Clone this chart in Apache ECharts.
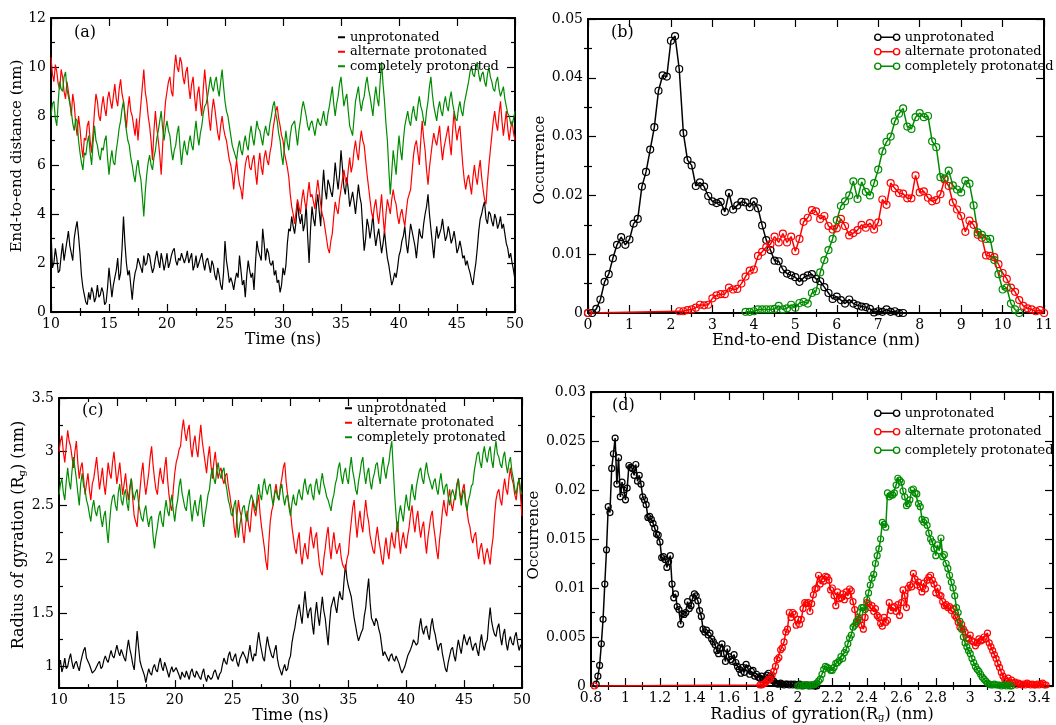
<!DOCTYPE html>
<html>
<head>
<meta charset="utf-8">
<script src="https://cdn.jsdelivr.net/npm/echarts@6/dist/echarts.min.js"></script>
<style>
  html, body { margin: 0; padding: 0; background: #fff; }
  #chart { width: 1056px; height: 725px; }
</style>
</head>
<body>
<div id="chart"></div>
<script>
// ---------- series names ----------
const SERIES_NAMES = ['unprotonated', 'alternate protonated', 'completely protonated'];

// ---------- (a) end-to-end distance vs time ----------
// Samples on the quarter-nanosecond grid (10, 10.25, ... 50 ns) and the samples half way
// between them (10.125, 10.375, ... 49.875 ns); the two are interleaved when plotted.
const TIME_START = 10;
const TIME_STEP = 0.125;
const distUnprot = [
  3.3, 2.0, 2.2, 1.7, 2.8, 2.5, 3.3, 2.4, 3.0, 3.7, 2.4, 1.0, 0.4, 0.8, 1.0, 0.4, 1.1, 0.7, 0.8, 0.4,
  1.8, 0.6, 1.4, 2.2, 1.6, 3.9, 2.0, 1.7, 0.5, 1.6, 2.2, 1.8, 2.3, 2.0, 2.3, 1.6, 2.2, 2.1, 2.4, 1.7,
  2.4, 2.0, 2.5, 2.1, 2.2, 2.4, 2.0, 2.5, 2.2, 1.7, 2.3, 2.0, 2.4, 1.7, 2.2, 1.6, 1.9, 1.3, 1.5, 0.9,
  2.9, 1.7, 1.4, 0.9, 1.6, 2.3, 1.1, 0.6, 2.1, 1.4, 0.9, 2.9, 2.3, 3.4, 2.1, 2.4, 1.9, 1.5, 1.2, 0.8,
  1.8, 1.9, 3.4, 3.9, 3.2, 4.5, 3.6, 3.3, 4.4, 2.0, 4.3, 3.5, 4.8, 3.5, 5.8, 4.6, 5.2, 4.7, 6.1, 5.0,
  6.6, 5.1, 5.5, 4.3, 4.9, 4.0, 5.2, 4.4, 2.5, 3.8, 3.0, 4.0, 2.7, 3.4, 2.4, 3.3, 2.2, 1.5, 1.3, 1.4,
  2.3, 2.9, 3.5, 2.4, 3.6, 3.0, 2.2, 3.4, 3.0, 4.0, 4.8, 3.4, 2.2, 3.5, 3.2, 3.8, 2.9, 3.5, 2.8, 3.3,
  2.4, 2.9, 2.2, 1.9, 1.8, 1.3, 1.6, 2.6, 3.8, 4.3, 3.8, 4.1, 3.7, 4.0, 3.4, 3.9, 3.6, 2.8, 2.2, 2.0,
  1.3
];
const distUnprotMid = [
  1.8, 2.6, 1.6, 2.3, 2.1, 2.9, 2.7, 2.1, 3.4, 3.1, 1.5, 0.7, 0.3, 0.5, 0.8, 0.6, 0.6, 1.0, 0.3, 1.0,
  1.2, 1.1, 1.7, 1.3, 2.6, 2.8, 1.5, 1.1, 1.2, 1.8, 2.0, 1.6, 1.9, 2.4, 1.9, 1.8, 2.5, 1.8, 2.1, 2.0,
  1.8, 2.3, 2.6, 1.9, 2.1, 2.2, 2.2, 2.0, 2.4, 1.9, 1.8, 2.2, 2.0, 2.1, 1.9, 2.1, 1.5, 1.8, 1.1, 1.6,
  2.1, 1.2, 1.2, 1.3, 1.4, 1.7, 1.3, 1.5, 1.7, 1.6, 2.0, 2.5, 2.1, 2.8, 2.6, 2.0, 2.1, 1.7, 1.3, 1.1,
  1.5, 2.8, 3.3, 3.5, 3.7, 3.9, 4.0, 3.6, 3.1, 3.4, 3.8, 4.3, 4.1, 4.9, 5.0, 5.4, 4.9, 5.3, 5.5, 5.6,
  5.9, 4.8, 5.0, 4.6, 4.5, 4.6, 4.7, 3.4, 3.0, 3.5, 3.4, 3.2, 3.1, 2.9, 2.8, 2.7, 1.9, 1.1, 1.6, 1.8,
  2.5, 3.1, 2.8, 3.0, 3.3, 2.7, 2.8, 3.1, 3.6, 4.3, 4.0, 2.8, 2.9, 3.0, 3.4, 3.3, 3.1, 3.2, 3.0, 2.9,
  2.6, 2.6, 2.3, 2.1, 1.6, 1.1, 2.0, 3.3, 4.0, 4.5, 3.6, 4.0, 3.5, 3.8, 3.6, 3.4, 3.2, 2.6, 2.4, 1.7
];
const distAlt = [
  10.4, 9.4, 9.8, 9.1, 9.6, 8.7, 9.0, 8.0, 8.5, 7.2, 7.5, 6.3, 7.0, 7.8, 6.5, 8.2, 8.6, 7.8, 8.8, 8.0,
  9.0, 8.3, 9.3, 8.4, 9.5, 8.6, 7.5, 8.8, 8.0, 7.2, 7.0, 8.5, 9.9, 8.6, 7.6, 6.2, 8.2, 7.0, 5.6, 7.8,
  9.0, 9.6, 8.8, 10.5, 9.8, 10.2, 9.3, 10.0, 8.7, 9.6, 8.2, 9.2, 8.0, 9.9, 8.6, 7.4, 8.7, 7.8, 7.0, 8.0,
  7.2, 6.6, 6.0, 5.0, 6.2, 5.2, 4.6, 6.0, 6.4, 5.8, 6.4, 5.2, 6.5, 5.6, 6.6, 6.0, 6.8, 7.8, 8.4, 7.6,
  7.0, 6.2, 5.5, 4.3, 3.6, 4.6, 4.0, 5.0, 4.2, 5.3, 4.8, 4.2, 5.4, 4.4, 3.8, 3.0, 2.4, 3.2, 4.5, 4.0,
  5.0, 5.8, 5.2, 6.3, 6.0, 7.0, 6.2, 7.4, 6.8, 5.6, 4.6, 3.8, 4.6, 3.6, 4.8, 3.2, 4.6, 4.0, 5.0, 4.4,
  3.6, 4.2, 3.5, 4.6, 5.0, 6.4, 7.0, 6.0, 7.8, 6.6, 5.2, 6.4, 7.3, 6.8, 7.6, 6.2, 7.0, 7.6, 6.4, 8.2,
  7.0, 7.6, 6.0, 5.0, 5.6, 4.8, 6.0, 5.2, 6.2, 5.0, 4.4, 6.0, 7.2, 8.2, 7.4, 8.6, 7.2, 8.2, 7.0, 7.8,
  7.0
];
const distAltMid = [
  9.7, 10.1, 9.3, 9.9, 9.0, 9.4, 8.6, 8.9, 7.7, 8.0, 6.8, 7.1, 7.6, 7.0, 7.3, 8.9, 8.0, 8.4, 8.3, 8.7,
  8.6, 8.8, 8.7, 9.1, 8.9, 8.1, 8.3, 8.2, 7.6, 7.9, 7.8, 9.2, 9.0, 8.0, 7.0, 7.4, 7.5, 6.4, 6.8, 8.6,
  9.4, 9.0, 9.9, 10.0, 10.4, 9.6, 9.8, 9.2, 9.3, 8.8, 8.9, 8.5, 9.1, 9.2, 7.9, 8.2, 8.3, 7.3, 7.6, 7.5,
  7.0, 6.2, 5.6, 5.7, 5.6, 5.0, 5.4, 6.3, 5.9, 6.2, 5.7, 6.0, 5.9, 6.3, 6.2, 6.5, 7.4, 8.2, 7.9, 7.2,
  6.5, 5.9, 4.8, 4.0, 4.1, 4.3, 4.6, 4.5, 4.8, 4.7, 4.5, 4.9, 4.9, 4.0, 3.4, 2.6, 2.9, 3.9, 4.2, 4.6,
  5.4, 5.4, 5.8, 5.7, 6.6, 6.5, 6.9, 7.0, 6.2, 5.1, 4.1, 4.3, 4.0, 4.2, 3.9, 4.0, 4.3, 4.6, 4.6, 3.9,
  4.0, 3.8, 4.1, 4.8, 5.7, 6.8, 6.5, 7.0, 7.1, 5.8, 5.9, 6.9, 7.0, 7.2, 6.8, 6.7, 7.3, 6.9, 7.4, 7.5,
  7.4, 6.8, 5.4, 5.4, 5.2, 5.5, 5.5, 5.8, 5.5, 4.6, 5.3, 6.6, 7.8, 7.7, 8.1, 7.8, 7.7, 7.5, 7.5, 7.3
];
const distComp = [
  8.0, 8.6, 7.6, 9.4, 9.0, 9.8, 8.8, 8.2, 7.4, 7.8, 6.5, 5.8, 6.4, 7.2, 6.0, 7.6, 6.8, 6.2, 6.6, 7.2,
  5.6, 6.6, 6.0, 7.0, 7.8, 8.6, 7.4, 6.8, 6.0, 5.3, 6.2, 5.4, 3.9, 5.6, 6.4, 5.8, 6.6, 7.4, 8.2, 7.0,
  7.8, 7.2, 6.2, 6.8, 7.6, 6.0, 7.0, 6.4, 7.2, 6.6, 7.8, 6.8, 7.6, 8.4, 8.8, 9.6, 9.0, 9.6, 8.8, 9.9,
  8.6, 8.0, 7.2, 6.6, 6.2, 7.0, 6.4, 7.2, 6.6, 7.6, 6.8, 7.8, 7.4, 6.8, 7.6, 7.2, 8.0, 8.6, 7.8, 7.0,
  6.0, 7.4, 6.6, 7.6, 7.8, 6.8, 7.8, 8.6, 8.0, 7.4, 7.8, 7.2, 7.9, 7.6, 8.2, 7.6, 8.4, 9.2, 8.0, 8.8,
  9.6, 8.4, 8.9, 7.6, 7.2, 8.6, 9.2, 8.2, 8.8, 9.6, 8.8, 8.0, 9.2, 8.4, 10.2, 8.6, 7.0, 4.8, 6.6, 5.6,
  7.2, 6.2, 7.6, 8.2, 7.6, 8.4, 7.8, 8.8, 8.2, 7.6, 8.6, 9.6, 8.4, 7.8, 8.6, 8.0, 8.8, 8.2, 9.0, 8.2,
  7.8, 8.6, 8.0, 8.8, 9.4, 10.0, 9.6, 10.2, 9.4, 9.8, 9.2, 10.0, 9.4, 9.0, 9.6, 8.8, 9.2, 8.4, 8.0, 7.6,
  8.2
];
const distCompMid = [
  8.5, 7.9, 8.6, 9.1, 9.6, 9.1, 8.5, 7.7, 7.9, 7.0, 6.1, 6.5, 6.9, 6.5, 6.9, 7.0, 6.4, 6.7, 7.0, 6.3,
  6.2, 6.1, 6.6, 7.5, 8.3, 7.9, 7.0, 6.3, 5.6, 5.9, 5.7, 4.7, 4.9, 6.1, 6.0, 6.3, 7.1, 7.8, 7.5, 7.5,
  7.4, 6.6, 6.6, 7.3, 6.7, 6.6, 6.6, 6.9, 6.8, 7.3, 7.2, 7.3, 8.1, 8.5, 9.2, 9.2, 9.4, 9.1, 9.4, 9.2,
  8.2, 7.6, 6.8, 6.4, 6.7, 6.6, 6.9, 6.8, 7.2, 7.1, 7.3, 7.5, 7.1, 7.3, 7.3, 7.7, 8.4, 8.1, 7.3, 6.4,
  6.8, 6.9, 7.2, 7.7, 7.3, 7.4, 8.3, 8.3, 7.6, 7.7, 7.5, 7.6, 7.7, 7.9, 7.8, 8.1, 8.8, 8.5, 8.5, 9.3,
  9.0, 8.7, 8.2, 7.4, 7.9, 8.9, 8.6, 8.6, 9.3, 9.1, 8.4, 8.7, 8.7, 9.4, 9.3, 7.7, 5.8, 5.7, 6.1, 6.5,
  6.6, 7.0, 7.9, 7.8, 8.1, 8.0, 8.4, 8.4, 7.8, 8.2, 9.2, 8.9, 8.1, 8.3, 8.2, 8.5, 8.4, 8.7, 8.5, 7.9,
  8.3, 8.2, 8.5, 9.1, 9.8, 9.7, 10.0, 9.7, 9.7, 9.4, 9.7, 9.6, 9.1, 9.4, 9.1, 9.0, 8.7, 8.1, 7.7, 7.9
];

// ---------- (b) end-to-end distance histogram, bins of 0.1 nm ----------
const BIN_B = 0.1;
const histDistUnprotStart = 0;
const histDistUnprot = [
  0, 0, 0.0007, 0.0023, 0.0053, 0.0066, 0.0093, 0.0116, 0.0129, 0.0116,
  0.0125, 0.0152, 0.0160, 0.0215, 0.0240, 0.0278, 0.0316, 0.0378, 0.0404, 0.0402,
  0.0463, 0.0471, 0.0415, 0.0306, 0.0260, 0.0251, 0.0216, 0.0222, 0.0215, 0.0199,
  0.0190, 0.0187, 0.0189, 0.0172, 0.0204, 0.0176, 0.0183, 0.0189, 0.0188, 0.0180,
  0.0190, 0.0178, 0.0149, 0.0124, 0.0107, 0.0089, 0.0088, 0.0074, 0.0067, 0.0064,
  0.0061, 0.0053, 0.0060, 0.0064, 0.0066, 0.0058, 0.0054, 0.0044, 0.0034, 0.0024,
  0.0028, 0.0022, 0.0016, 0.0023, 0.0016, 0.0013, 0.0011, 0.0010, 0.0007, 0.0001,
  0.0003, 0.0002, 0.0006, 0.0002, 0.0003, 0, 0
];
const histDistAltHead = [[0, 0]];
const histDistAltStart = 2.2;
const histDistAlt = [
  0.0003, 0.0003, 0.0005, 0.0006, 0.0009, 0.0014, 0.0013, 0.0014,
  0.0025, 0.0030, 0.0032, 0.0032, 0.0043, 0.0040, 0.0041, 0.0050, 0.0062, 0.0072,
  0.0074, 0.0097, 0.0104, 0.0112, 0.0117, 0.0130, 0.0120, 0.0135, 0.0120, 0.0130,
  0.0105, 0.0126, 0.0155, 0.0162, 0.0175, 0.0173, 0.0160, 0.0165, 0.0148, 0.0142,
  0.0144, 0.0160, 0.0148, 0.0132, 0.0136, 0.0141, 0.0150, 0.0145, 0.0153, 0.0142,
  0.0154, 0.0193, 0.0184, 0.0221, 0.0212, 0.0204, 0.0203, 0.0195, 0.0195, 0.0234,
  0.0205, 0.0207, 0.0196, 0.0190, 0.0192, 0.0202, 0.0227, 0.0216, 0.0188, 0.0176,
  0.0165, 0.0138, 0.0157, 0.0150, 0.0133, 0.0128, 0.0098, 0.0097, 0.0095, 0.0083,
  0.0068, 0.0058, 0.0043, 0.0036, 0.0022, 0.0012, 0.0008, 0.0006, 0.0003, 0.0005,
  0
];
const histDistCompStart = 3.8;
const histDistComp = [
  0.0002, 0.0002,
  0.0003, 0.0006, 0.0006, 0.0006, 0.0006, 0.0007, 0.0012, 0.0006, 0.0008, 0.0014,
  0.0009, 0.0017, 0.0019, 0.0016, 0.0034, 0.0037, 0.0069, 0.0090, 0.0107, 0.0126,
  0.0158, 0.0182, 0.0190, 0.0200, 0.0224, 0.0194, 0.0223, 0.0206, 0.0200, 0.0221,
  0.0244, 0.0275, 0.0291, 0.0300, 0.0326, 0.0339, 0.0348, 0.0317, 0.0313, 0.0333,
  0.0340, 0.0333, 0.0335, 0.0292, 0.0282, 0.0231, 0.0229, 0.0242, 0.0217, 0.0210,
  0.0205, 0.0225, 0.0220, 0.0183, 0.0137, 0.0133, 0.0126, 0.0126, 0.0090, 0.0066,
  0.0040, 0.0043, 0.0016, 0.0006, 0
];

// ---------- (c) radius of gyration vs time (same sampling as (a)) ----------
const rgUnprot = [
  1.0, 0.95, 1.08, 1.0, 1.12, 0.98, 1.05, 0.96, 1.1, 1.18, 1.05, 0.98, 0.93, 0.98, 1.05, 1.0, 1.1, 1.04, 1.15, 1.08,
  1.2, 1.1, 1.15, 1.05, 1.25, 1.1, 0.97, 1.33, 1.05, 1.0, 0.85, 0.98, 0.92, 1.02, 0.95, 1.08, 0.96, 1.0, 0.9, 1.0,
  0.94, 0.98, 0.88, 0.92, 0.96, 0.88, 0.98, 0.9, 0.95, 0.88, 0.98, 0.86, 0.93, 0.9, 0.97, 0.88, 0.95, 1.08, 1.02, 1.14,
  1.05, 1.12, 1.0, 1.1, 1.15, 1.03, 1.2, 1.05, 1.1, 1.32, 1.15, 1.05, 1.28, 1.15, 1.08, 1.2, 1.0, 0.92, 1.02, 0.98,
  1.1, 1.3, 1.45, 1.58, 1.4, 1.7, 1.45, 1.55, 1.3, 1.6, 1.38, 1.65, 1.45, 1.2, 1.55, 1.65, 1.5, 1.7, 1.62, 1.95,
  1.75, 1.65, 1.45, 1.3, 1.25, 1.35, 1.55, 1.82, 1.45, 1.38, 1.42, 1.3, 1.1, 1.15, 1.05, 1.12, 1.05, 1.1, 0.98, 0.93,
  1.05, 1.1, 1.2, 1.25, 1.22, 1.45, 1.3, 1.38, 1.25, 1.45, 1.3, 1.15, 1.22, 1.05, 0.95, 1.1, 1.18, 1.05, 1.25, 1.12,
  1.3, 1.2, 1.28, 1.15, 1.22, 1.1, 1.3, 1.15, 1.25, 1.55, 1.35, 1.28, 1.4, 1.2, 1.35, 1.15, 1.28, 1.2, 1.32, 1.15,
  1.2
];
const rgUnprotMid = [
  1.06, 1.0, 0.98, 1.07, 1.04, 1.03, 1.0, 1.04, 1.15, 1.08, 1.02, 0.94, 0.97, 1.03, 0.98, 1.06, 1.06, 1.1, 1.1, 1.14,
  1.14, 1.16, 1.08, 1.16, 1.16, 1.02, 1.15, 1.18, 1.0, 0.92, 0.92, 0.94, 0.99, 0.97, 1.03, 1.0, 1.04, 0.95, 0.96, 0.95,
  0.99, 0.92, 0.95, 0.9, 0.92, 0.95, 0.92, 0.96, 0.9, 0.94, 0.9, 0.92, 0.88, 0.95, 0.92, 0.93, 1.02, 1.04, 1.1, 1.07,
  1.09, 1.04, 1.07, 1.14, 1.08, 1.12, 1.1, 1.12, 1.22, 1.22, 1.08, 1.18, 1.2, 1.1, 1.15, 1.07, 0.96, 0.98, 0.96, 1.06,
  1.22, 1.36, 1.52, 1.48, 1.56, 1.55, 1.52, 1.4, 1.48, 1.47, 1.52, 1.52, 1.32, 1.4, 1.6, 1.56, 1.62, 1.64, 1.8, 1.82,
  1.7, 1.55, 1.38, 1.24, 1.32, 1.47, 1.7, 1.6, 1.42, 1.45, 1.35, 1.2, 1.14, 1.08, 1.1, 1.07, 1.1, 1.03, 0.94, 1.0,
  1.1, 1.16, 1.25, 1.2, 1.36, 1.35, 1.36, 1.3, 1.38, 1.35, 1.22, 1.2, 1.12, 0.98, 1.04, 1.16, 1.1, 1.16, 1.18, 1.22,
  1.24, 1.25, 1.2, 1.2, 1.15, 1.22, 1.2, 1.22, 1.42, 1.42, 1.3, 1.36, 1.28, 1.3, 1.22, 1.24, 1.22, 1.28, 1.22, 1.2
];
const rgAlt = [
  3.0, 3.15, 2.9, 3.2, 3.05, 2.85, 3.1, 2.75, 2.9, 2.6, 2.8, 2.55, 2.75, 2.95, 2.65, 2.85, 2.6, 2.9, 2.75, 3.0,
  2.7, 2.9, 2.6, 2.8, 2.55, 2.75, 2.4, 2.3, 2.65, 2.9, 2.6, 2.8, 3.05, 2.75, 2.6, 2.85, 2.7, 2.95, 2.6, 2.45,
  2.8, 2.95, 3.05, 3.3, 3.1, 3.25, 2.95, 3.15, 2.95, 3.25, 3.0, 2.8, 3.05, 2.75, 3.0, 2.75, 2.85, 2.7, 2.8, 2.6,
  2.45, 2.2, 2.55, 2.4, 2.15, 2.45, 2.25, 2.55, 2.4, 2.6, 2.3, 2.1, 1.9, 2.35, 2.5, 2.7, 2.55, 2.75, 2.9, 2.6,
  2.45, 2.2, 2.05, 2.25, 1.95, 2.15, 2.0, 2.3, 2.1, 2.25, 1.95, 1.85, 2.1, 2.3, 2.0, 2.25, 2.05, 2.15, 1.95, 1.9,
  2.05, 2.35, 2.55, 2.2, 2.45, 2.25, 2.55, 2.35, 2.15, 2.05, 2.3, 2.1, 1.95, 2.2, 2.0, 2.25, 2.1, 2.35, 2.05, 2.25,
  2.1, 2.3, 2.5, 2.25, 2.45, 2.2, 2.35, 2.05, 2.3, 2.45, 2.2, 2.0, 2.3, 2.55, 2.4, 2.65, 2.45, 2.6, 2.75, 2.55,
  2.7, 2.45, 2.3, 2.15, 2.25, 2.0, 2.15, 1.95, 2.1, 1.95, 2.2, 2.55, 2.65, 2.5, 2.75, 2.6, 2.85, 2.7, 2.55, 2.75,
  2.4
];
const rgAltMid = [
  3.1, 3.0, 3.05, 3.1, 2.95, 3.0, 2.9, 2.85, 2.75, 2.7, 2.65, 2.7, 2.85, 2.8, 2.75, 2.7, 2.75, 2.8, 2.9, 2.85,
  2.8, 2.75, 2.7, 2.65, 2.68, 2.55, 2.35, 2.5, 2.8, 2.72, 2.7, 2.95, 2.88, 2.65, 2.75, 2.75, 2.85, 2.75, 2.5, 2.65,
  2.9, 3.02, 3.2, 3.18, 3.2, 3.05, 3.08, 3.02, 3.12, 3.1, 2.9, 2.95, 2.88, 2.9, 2.85, 2.82, 2.75, 2.78, 2.68, 2.5,
  2.3, 2.4, 2.45, 2.25, 2.32, 2.32, 2.42, 2.45, 2.52, 2.42, 2.2, 1.98, 2.15, 2.45, 2.62, 2.6, 2.68, 2.85, 2.72, 2.5,
  2.3, 2.1, 2.18, 2.05, 2.08, 2.05, 2.18, 2.18, 2.2, 2.08, 1.88, 2.0, 2.22, 2.12, 2.15, 2.12, 2.1, 2.02, 1.92, 2.0,
  2.22, 2.48, 2.35, 2.35, 2.32, 2.42, 2.42, 2.22, 2.08, 2.2, 2.18, 2.0, 2.1, 2.08, 2.15, 2.15, 2.25, 2.18, 2.18, 2.15,
  2.22, 2.42, 2.35, 2.38, 2.3, 2.3, 2.18, 2.2, 2.4, 2.3, 2.08, 2.18, 2.45, 2.45, 2.55, 2.52, 2.55, 2.7, 2.62, 2.65,
  2.55, 2.35, 2.2, 2.22, 2.1, 2.1, 2.05, 2.05, 2.02, 2.1, 2.4, 2.62, 2.55, 2.65, 2.65, 2.75, 2.75, 2.6, 2.68, 2.58
];
const rgComp = [
  2.6, 2.75, 2.55, 2.85, 2.65, 2.95, 2.75, 2.5, 2.8, 2.65, 2.5, 2.35, 2.55, 2.4, 2.5, 2.3, 2.45, 2.15, 2.5, 2.6,
  2.45, 2.7, 2.5, 2.65, 2.45, 2.75, 2.55, 2.65, 2.45, 2.35, 2.5, 2.3, 2.4, 2.1, 2.3, 2.45, 2.3, 2.55, 2.4, 2.6,
  2.35, 2.55, 2.75, 2.55, 2.45, 2.65, 2.35, 2.55, 2.4, 2.6, 2.3, 2.5, 2.65, 2.85, 2.7, 2.9, 2.75, 2.85, 2.65, 2.5,
  2.4, 2.55, 2.2, 2.4, 2.5, 2.35, 2.55, 2.6, 2.45, 2.7, 2.55, 2.75, 2.6, 2.7, 2.5, 2.65, 2.55, 2.7, 2.5, 2.6,
  2.4, 2.6, 2.5, 2.65, 2.55, 2.75, 2.6, 2.7, 2.55, 2.75, 2.6, 2.8, 2.65, 2.55, 2.45, 2.6, 2.75, 2.9, 2.7, 2.85,
  2.7, 2.95, 2.75, 2.6, 2.8, 2.95, 2.7, 2.85, 2.65, 2.8, 2.9, 2.7, 2.95, 2.75, 2.9, 3.1, 2.6, 2.25, 2.5, 2.35,
  2.6, 2.45, 2.7, 2.55, 2.75, 2.85, 2.7, 2.9, 2.75, 2.65, 2.75, 2.6, 2.8, 2.6, 2.7, 2.5, 2.65, 2.55, 2.75, 2.5,
  2.65, 2.45, 2.6, 2.7, 2.9, 3.0, 2.85, 3.05, 2.9, 3.05, 2.85, 3.1, 2.95, 2.85, 3.0, 2.8, 2.95, 2.75, 2.6, 2.75,
  2.6
];
const rgCompMid = [
  2.7, 2.62, 2.72, 2.72, 2.82, 2.85, 2.62, 2.7, 2.68, 2.55, 2.42, 2.48, 2.45, 2.48, 2.38, 2.4, 2.28, 2.35, 2.58, 2.5,
  2.62, 2.55, 2.6, 2.52, 2.65, 2.62, 2.62, 2.52, 2.38, 2.45, 2.38, 2.38, 2.22, 2.22, 2.4, 2.35, 2.45, 2.45, 2.52, 2.45,
  2.48, 2.68, 2.62, 2.48, 2.58, 2.48, 2.48, 2.45, 2.52, 2.42, 2.42, 2.6, 2.78, 2.75, 2.82, 2.8, 2.82, 2.72, 2.55, 2.42,
  2.5, 2.35, 2.32, 2.48, 2.4, 2.48, 2.6, 2.5, 2.6, 2.6, 2.68, 2.65, 2.68, 2.58, 2.6, 2.58, 2.65, 2.58, 2.58, 2.48,
  2.52, 2.52, 2.6, 2.58, 2.68, 2.65, 2.68, 2.6, 2.68, 2.65, 2.72, 2.7, 2.58, 2.5, 2.55, 2.7, 2.85, 2.78, 2.8, 2.75,
  2.85, 2.82, 2.65, 2.72, 2.9, 2.8, 2.8, 2.72, 2.75, 2.88, 2.78, 2.85, 2.82, 2.85, 3.02, 2.85, 2.4, 2.42, 2.42, 2.5,
  2.5, 2.6, 2.6, 2.68, 2.82, 2.75, 2.82, 2.8, 2.7, 2.72, 2.65, 2.72, 2.68, 2.68, 2.58, 2.6, 2.6, 2.68, 2.6, 2.6,
  2.52, 2.55, 2.68, 2.82, 2.98, 2.9, 2.98, 2.95, 3.0, 2.92, 3.0, 2.98, 2.88, 2.95, 2.88, 2.9, 2.82, 2.65, 2.7, 2.65
];

// ---------- (d) radius of gyration histogram, bins of 0.01 nm ----------
const BIN_D = 0.01;
const histRgUnprotStart = 0.83;
const histRgUnprot = [
  0.0002, 0.0010, 0.0021, 0.0043, 0.0068, 0.0104, 0.0139, 0.0183,
  0.0177, 0.0222, 0.0237, 0.0253, 0.0206, 0.0233, 0.0193, 0.0208, 0.0200, 0.0190,
  0.0202, 0.0225, 0.0223, 0.0222, 0.0215, 0.0226, 0.0209, 0.0215, 0.0206, 0.0193,
  0.0190, 0.0185, 0.0172, 0.0173, 0.0170, 0.0166, 0.0161, 0.0155, 0.0154, 0.0147,
  0.0131, 0.0132, 0.0129, 0.0121, 0.0127, 0.0133, 0.0104, 0.0090, 0.0094, 0.0081,
  0.0078, 0.0063, 0.0074, 0.0073, 0.0075, 0.0086, 0.0079, 0.0082, 0.0090, 0.0094,
  0.0092, 0.0087, 0.0077, 0.0071, 0.0058, 0.0055, 0.0057, 0.0052, 0.0054, 0.0048,
  0.0045, 0.0042, 0.0036, 0.0033, 0.0039, 0.0043, 0.0033, 0.0025, 0.0038, 0.0030,
  0.0027, 0.0025, 0.0032, 0.0024, 0.0020, 0.0017, 0.0013, 0.0019, 0.0014, 0.0022,
  0.0018, 0.0012, 0.0015, 0.0016, 0.0010, 0.0012, 0.0009, 0.0008, 0.0010, 0.0007,
  0.0006, 0.0011, 0.0013, 0.0010, 0.0006, 0.0005, 0.0003, 0.0002, 0.0002, 0.0003,
  0.0002, 0.0001, 0.0002, 0.0002, 0.0001, 0.0002, 0.0001, 0.0002, 0.0001, 0.0001,
  0.0002, 0.0001, 0.0000, 0.0001, 0.0001, 0.0001, 0.0000, 0.0001, 0.0000, 0.0000, 0.0000
];
const histRgAltHead = [[0.82, 0]];
const histRgAltStart = 1.78;
const histRgAlt = [
  0.0001, 0.0001,
  0.0002, 0.0003, 0.0005, 0.0007, 0.0007, 0.0011, 0.0015, 0.0020, 0.0027, 0.0029,
  0.0037, 0.0039, 0.0045, 0.0055, 0.0058, 0.0075, 0.0070, 0.0075, 0.0073, 0.0062,
  0.0068, 0.0063, 0.0068, 0.0079, 0.0085, 0.0084, 0.0085, 0.0076, 0.0084, 0.0093,
  0.0099, 0.0100, 0.0113, 0.0104, 0.0109, 0.0107, 0.0112, 0.0111, 0.0108, 0.0098,
  0.0100, 0.0092, 0.0082, 0.0096, 0.0089, 0.0090, 0.0094, 0.0088, 0.0096, 0.0092,
  0.0099, 0.0097, 0.0086, 0.0078, 0.0064, 0.0070, 0.0067, 0.0062, 0.0058, 0.0070,
  0.0085, 0.0084, 0.0080, 0.0082, 0.0076, 0.0079, 0.0072, 0.0070, 0.0064, 0.0061,
  0.0070, 0.0065, 0.0067, 0.0085, 0.0077, 0.0080, 0.0081, 0.0076, 0.0083, 0.0072,
  0.0085, 0.0098, 0.0092, 0.0080, 0.0100, 0.0103, 0.0101, 0.0115, 0.0109, 0.0103,
  0.0106, 0.0101, 0.0096, 0.0105, 0.0099, 0.0108, 0.0111, 0.0113, 0.0108, 0.0104,
  0.0095, 0.0100, 0.0093, 0.0092, 0.0086, 0.0082, 0.0083, 0.0080, 0.0081, 0.0077,
  0.0079, 0.0072, 0.0070, 0.0065, 0.0060, 0.0063, 0.0058, 0.0055, 0.0049, 0.0048,
  0.0052, 0.0046, 0.0045, 0.0041, 0.0044, 0.0048, 0.0046, 0.0047, 0.0050, 0.0048,
  0.0054, 0.0044, 0.0040, 0.0036, 0.0032, 0.0028, 0.0023, 0.0019, 0.0014, 0.0010,
  0.0007, 0.0005, 0.0008, 0.0004, 0.0006, 0.0003, 0.0004, 0.0001, 0.0003, 0.0002,
  0.0001, 0.0002, 0.0001, 0.0003, 0.0002, 0.0001, 0.0002, 0.0001, 0.0001, 0.0002,
  0.0001, 0.0002, 0.0003, 0.0001, 0.0001
];
const histRgCompStart = 2.0;
const histRgComp = [
  0, 0.0001, 0, 0.0001, 0.0001, 0.0001, 0, 0.0001, 0.0001, 0.0001,
  0.0002, 0.0003, 0.0005, 0.0007, 0.0012, 0.0017, 0.0020, 0.0019, 0.0018, 0.0016,
  0.0016, 0.0019, 0.0023, 0.0024, 0.0026, 0.0030, 0.0028, 0.0034, 0.0037, 0.0043,
  0.0049, 0.0052, 0.0060, 0.0062, 0.0066, 0.0068, 0.0075, 0.0080, 0.0080, 0.0078,
  0.0088, 0.0095, 0.0103, 0.0110, 0.0114, 0.0125, 0.0133, 0.0140, 0.0150, 0.0167,
  0.0165, 0.0162, 0.0197, 0.0193, 0.0195, 0.0195, 0.0197, 0.0205, 0.0212, 0.0210,
  0.0208, 0.0199, 0.0193, 0.0184, 0.0186, 0.0190, 0.0200, 0.0201, 0.0197, 0.0196,
  0.0186, 0.0183, 0.0170, 0.0167, 0.0169, 0.0164, 0.0156, 0.0150, 0.0147, 0.0140,
  0.0133, 0.0144, 0.0138, 0.0151, 0.0132, 0.0134, 0.0125, 0.0120, 0.0113, 0.0106,
  0.0100, 0.0092, 0.0080, 0.0075, 0.0066, 0.0058, 0.0050, 0.0044, 0.0040, 0.0036,
  0.0033, 0.0028, 0.0024, 0.0020, 0.0017, 0.0015, 0.0012, 0.0009, 0.0007, 0.0005,
  0.0003, 0.0002, 0.0001, 0.0001, 0.0002, 0.0001, 0.0001, 0.0001, 0.0000, 0.0001,
  0.0001, 0.0000, 0.0001, 0.0000, 0.0000
];

// ---------- tick values ----------
const timeMajor = [10, 15, 20, 25, 30, 35, 40, 45, 50];
const timeMinor = [12.5, 17.5, 22.5, 27.5, 32.5, 37.5, 42.5, 47.5];
const distMajor = [0, 2, 4, 6, 8, 10, 12];
const distMinor = [1, 3, 5, 7, 9, 11];
const eteMajor = [0, 1, 2, 3, 4, 5, 6, 7, 8, 9, 10, 11];
const eteMinor = [0.5, 1.5, 2.5, 3.5, 4.5, 5.5, 6.5, 7.5, 8.5, 9.5, 10.5];
const occBMajor = [0, 0.01, 0.02, 0.03, 0.04, 0.05];
const occBMinor = [0.005, 0.015, 0.025, 0.035, 0.045];
const rgMajor = [1, 1.5, 2, 2.5, 3, 3.5];
const rgMinor = [1.25, 1.75, 2.25, 2.75, 3.25];
const rgBinMajor = [0.8, 1, 1.2, 1.4, 1.6, 1.8, 2, 2.2, 2.4, 2.6, 2.8, 3, 3.2, 3.4];
const rgBinMinor = [0.9, 1.1, 1.3, 1.5, 1.7, 1.9, 2.1, 2.3, 2.5, 2.7, 2.9, 3.1, 3.3];
const occDMajor = [0, 0.005, 0.01, 0.015, 0.02, 0.025, 0.03];
const occDMinor = [0.0025, 0.0075, 0.0125, 0.0175, 0.0225, 0.0275];

// ---------- helpers ----------
const SERIF = '"DejaVu Serif", "Liberation Serif", serif';
const COLORS = ['#000000', '#ff0000', '#008c00'];

function seq(start, step, values) {
  return values.map((v, i) => [Math.round((start + i * step) * 1000) / 1000, v]);
}
// Merge the on-grid samples with the half-step samples in time order.
function interleave(onGrid, between) {
  const out = [];
  onGrid.forEach((v, i) => { out.push(v); if (i < between.length) out.push(between[i]); });
  return out;
}

const xAxes = [];
const yAxes = [];

// Framed axis: labelled major ticks, minor ticks, and the same ticks mirrored on the far side.
function addAxes(list, dim, grid, cfg) {
  const first = list.length;
  const mainPos = dim === 'x' ? 'bottom' : 'left';
  const sidePos = dim === 'x' ? 'top' : 'right';
  const common = { type: 'value', gridIndex: grid, min: cfg.min, max: cfg.max, splitLine: { show: false } };
  const tick = (vals, len) => ({ show: true, inside: true, length: len, customValues: vals,
    lineStyle: { color: '#000', width: 1.2 } });
  const frame = { show: true, onZero: false, lineStyle: { color: '#000', width: 2 } };
  const titleStyle = Object.assign({ fontFamily: SERIF, fontSize: cfg.titleSize, color: '#000' }, cfg.titleExtra || {});
  list.push(Object.assign({}, common, {
    position: mainPos, axisLine: frame, axisTick: tick(cfg.majors, 8),
    axisLabel: { show: true, customValues: cfg.majors, margin: 5, color: '#000', fontFamily: SERIF, fontSize: 14,
      formatter: v => String(Math.round(v * 1e6) / 1e6) },
    name: cfg.title, nameLocation: 'middle', nameGap: cfg.gap, nameTextStyle: titleStyle
  }));
  list.push(Object.assign({}, common, { position: mainPos, axisLine: { show: false },
    axisTick: tick(cfg.minors, 4), axisLabel: { show: false } }));
  list.push(Object.assign({}, common, { position: sidePos, axisLine: frame,
    axisTick: tick(cfg.majors, 8), axisLabel: { show: false } }));
  list.push(Object.assign({}, common, { position: sidePos, axisLine: { show: false },
    axisTick: tick(cfg.minors, 4), axisLabel: { show: false } }));
  return first;
}

const subStyle = { g: { fontFamily: SERIF, fontSize: 10, color: '#000', lineHeight: 17, verticalAlign: 'bottom' } };

const grids = [
  { left: 51, top: 18, width: 464, height: 294 },
  { left: 588, top: 19, width: 463, height: 294 },
  { left: 59, top: 398, width: 463, height: 294 },
  { left: 591, top: 392, width: 462, height: 294 }
];

const xa = addAxes(xAxes, 'x', 0, { min: 10, max: 50, majors: timeMajor, minors: timeMinor, title: 'Time (ns)', gap: 18, titleSize: 16 });
const ya = addAxes(yAxes, 'y', 0, { min: 0, max: 12, majors: distMajor, minors: distMinor, title: 'End-to-end distance (nm)', gap: 23, titleSize: 15, titleExtra: { padding: [0, 0, 0, 18] } });
const xb = addAxes(xAxes, 'x', 1, { min: 0, max: 11, majors: eteMajor, minors: eteMinor, title: 'End-to-end Distance (nm)', gap: 19, titleSize: 16 });
const yb = addAxes(yAxes, 'y', 1, { min: 0, max: 0.05, majors: occBMajor, minors: occBMinor, title: 'Occurrence', gap: 32, titleSize: 15, titleExtra: { padding: [0, 0, 0, 12] } });
const xc = addAxes(xAxes, 'x', 2, { min: 10, max: 50, majors: timeMajor, minors: timeMinor, title: 'Time (ns)', gap: 17, titleSize: 16 });
const yc = addAxes(yAxes, 'y', 2, { min: 0.8, max: 3.5, majors: rgMajor, minors: rgMinor, title: 'Radius of gyration (R{g|g}) (nm)', gap: 30, titleSize: 16, titleExtra: { lineHeight: 17, rich: subStyle, padding: [0, 0, 0, 16] } });
const xd = addAxes(xAxes, 'x', 3, { min: 0.8, max: 3.48, majors: rgBinMajor, minors: rgBinMinor, title: 'Radius of gyration(R{g|g}) (nm)', gap: 18, titleSize: 16, titleExtra: { lineHeight: 17, rich: subStyle } });
const yd = addAxes(yAxes, 'y', 3, { min: 0, max: 0.03, majors: occDMajor, minors: occDMinor, title: 'Occurrence', gap: 30, titleSize: 15, titleExtra: { padding: [0, 0, 0, 8] } });

function tsSeries(tag, idx, onGrid, between, xi, yi) {
  return { type: 'line', name: tag + ':' + SERIES_NAMES[idx],
    data: seq(TIME_START, TIME_STEP, interleave(onGrid, between)),
    xAxisIndex: xi, yAxisIndex: yi, symbol: 'none', silent: true,
    lineStyle: { color: COLORS[idx], width: 1.2 }, itemStyle: { color: COLORS[idx] } };
}
function histSeries(tag, idx, data, xi, yi, size) {
  return { type: 'line', name: tag + ':' + SERIES_NAMES[idx], data: data,
    xAxisIndex: xi, yAxisIndex: yi, symbol: 'circle', symbolSize: size, showSymbol: true, showAllSymbol: true, silent: true,
    lineStyle: { color: COLORS[idx], width: 1.5 },
    itemStyle: { color: 'rgba(255,255,255,0)', borderColor: COLORS[idx], borderWidth: 1.2 } };
}

const series = [
  tsSeries('a', 0, distUnprot, distUnprotMid, xa, ya),
  tsSeries('a', 1, distAlt, distAltMid, xa, ya),
  tsSeries('a', 2, distComp, distCompMid, xa, ya),
  histSeries('b', 0, seq(histDistUnprotStart, BIN_B, histDistUnprot), xb, yb, 7),
  histSeries('b', 1, histDistAltHead.concat(seq(histDistAltStart, BIN_B, histDistAlt)), xb, yb, 7),
  histSeries('b', 2, seq(histDistCompStart, BIN_B, histDistComp), xb, yb, 7),
  tsSeries('c', 0, rgUnprot, rgUnprotMid, xc, yc),
  tsSeries('c', 1, rgAlt, rgAltMid, xc, yc),
  tsSeries('c', 2, rgComp, rgCompMid, xc, yc),
  histSeries('d', 0, seq(histRgUnprotStart, BIN_D, histRgUnprot), xd, yd, 6),
  histSeries('d', 1, histRgAltHead.concat(seq(histRgAltStart, BIN_D, histRgAlt)), xd, yd, 6),
  histSeries('d', 2, seq(histRgCompStart, BIN_D, histRgComp), xd, yd, 6)
];

// Legend keys: a short dash for the trajectories, a line with open circles for the histograms.
const DASH_ICON = 'rect';
const CIRCLE_LINE_ICON = 'path://M1,4A3,3,0,1,0,7,4A3,3,0,1,0,1,4ZM7,4L19,4M19,4A3,3,0,1,0,25,4A3,3,0,1,0,19,4Z';

function legendFor(tag, left, top, rowH, withCircles) {
  return {
    left: left, top: top, orient: 'vertical', padding: 0, itemGap: 0,
    icon: withCircles ? CIRCLE_LINE_ICON : DASH_ICON,
    itemWidth: withCircles ? 25 : 7, itemHeight: withCircles ? 7 : 2,
    itemStyle: withCircles ? { borderWidth: 1.4 } : { borderWidth: 0 },
    selectedMode: false,
    data: SERIES_NAMES.map(n => tag + ':' + n),
    formatter: n => n.slice(2),
    textStyle: { fontFamily: SERIF, fontSize: 13, color: '#000', lineHeight: rowH }
  };
}

const panelLabel = (text, left, top) => ({ type: 'text', left: left, top: top,
  style: { text: text, font: '16px "DejaVu Serif", serif', fill: '#000' } });

const chart = echarts.init(document.getElementById('chart'), null, { renderer: 'canvas' });
chart.setOption({
  animation: false,
  backgroundColor: '#ffffff',
  grid: grids,
  xAxis: xAxes,
  yAxis: yAxes,
  legend: [
    legendFor('a', 338, 30, 14.5, false),
    legendFor('b', 874, 30, 14.5, true),
    legendFor('c', 345, 401, 14.5, false),
    legendFor('d', 874, 404, 18.5, true)
  ],
  graphic: [
    panelLabel('(a)', 74, 25),
    panelLabel('(b)', 611, 25),
    panelLabel('(c)', 82, 403),
    panelLabel('(d)', 612, 398)
  ],
  series: series
});
</script>
</body>
</html>
